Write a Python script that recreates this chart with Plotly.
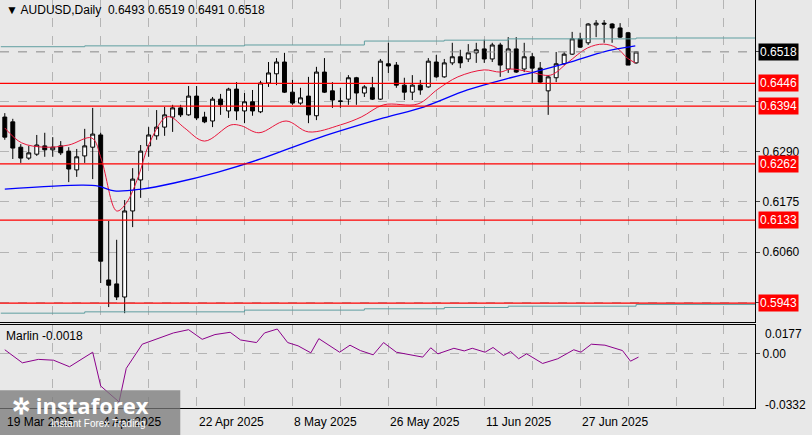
import plotly.graph_objects as go

# daily candles
opens = [0.6369, 0.6358, 0.6300, 0.6275, 0.6284, 0.6303, 0.6294, 0.6303, 0.6291, 0.6248,
         0.6280, 0.6300, 0.6328, 0.5996, 0.5987, 0.5957, 0.6154, 0.6225, 0.6303, 0.6326,
         0.6346, 0.6369, 0.6390, 0.6374, 0.6417, 0.6369, 0.6360, 0.6410, 0.6383, 0.6433,
         0.6383, 0.6404, 0.6381, 0.6447, 0.6468, 0.6495, 0.6426, 0.6401, 0.6417, 0.6372,
         0.6472, 0.6429, 0.6406, 0.6410, 0.6459, 0.6424, 0.6436, 0.6410, 0.6491, 0.6488,
         0.6442, 0.6426, 0.6442, 0.6438, 0.6495, 0.6461, 0.6493, 0.6507, 0.6502, 0.6516,
         0.6525, 0.6502, 0.6534, 0.6479, 0.6525, 0.6479, 0.6507, 0.6481, 0.6429, 0.6459,
         0.6491, 0.6513, 0.6548, 0.6539, 0.6580, 0.6584, 0.6582, 0.6573, 0.6562, 0.6493]
highs = [0.6378, 0.6365, 0.6307, 0.6303, 0.6328, 0.6333, 0.6323, 0.6314, 0.6300, 0.6296,
         0.6342, 0.6390, 0.6333, 0.6131, 0.6088, 0.6179, 0.6252, 0.6305, 0.6346, 0.6385,
         0.6392, 0.6397, 0.6397, 0.6440, 0.6440, 0.6381, 0.6415, 0.6422, 0.6436, 0.6449,
         0.6424, 0.6431, 0.6452, 0.6495, 0.6504, 0.6516, 0.6454, 0.6436, 0.6461, 0.6484,
         0.6504, 0.6449, 0.6436, 0.6465, 0.6461, 0.6442, 0.6461, 0.6502, 0.6539, 0.6495,
         0.6459, 0.6465, 0.6454, 0.6504, 0.6511, 0.6502, 0.6539, 0.6523, 0.6536, 0.6539,
         0.6546, 0.6539, 0.6539, 0.6552, 0.6552, 0.6539, 0.6516, 0.6495, 0.6465, 0.6518,
         0.6518, 0.6564, 0.6562, 0.6584, 0.6591, 0.6591, 0.6584, 0.6584, 0.6564, 0.6519]
lows = [0.6317, 0.6273, 0.6264, 0.6271, 0.6280, 0.6278, 0.6278, 0.6282, 0.6220, 0.6232,
        0.6264, 0.6227, 0.5989, 0.5934, 0.5950, 0.5920, 0.6117, 0.6184, 0.6278, 0.6317,
        0.6326, 0.6335, 0.6369, 0.6372, 0.6362, 0.6355, 0.6346, 0.6374, 0.6367, 0.6362,
        0.6355, 0.6372, 0.6378, 0.6438, 0.6442, 0.6424, 0.6397, 0.6397, 0.6355, 0.6362,
        0.6424, 0.6390, 0.6390, 0.6397, 0.6397, 0.6415, 0.6408, 0.6408, 0.6470, 0.6436,
        0.6408, 0.6408, 0.6420, 0.6436, 0.6459, 0.6459, 0.6488, 0.6481, 0.6495, 0.6493,
        0.6493, 0.6495, 0.6461, 0.6470, 0.6470, 0.6472, 0.6447, 0.6447, 0.6374, 0.6449,
        0.6488, 0.6511, 0.6527, 0.6534, 0.6552, 0.6539, 0.6539, 0.6550, 0.6488, 0.6491]
closes = [0.6323, 0.6298, 0.6275, 0.6287, 0.6305, 0.6294, 0.6300, 0.6287, 0.6250, 0.6278,
          0.6303, 0.6330, 0.6039, 0.5984, 0.5957, 0.6154, 0.6227, 0.6291, 0.6328, 0.6346,
          0.6374, 0.6390, 0.6374, 0.6417, 0.6367, 0.6358, 0.6410, 0.6397, 0.6433, 0.6383,
          0.6404, 0.6383, 0.6447, 0.6470, 0.6495, 0.6426, 0.6401, 0.6413, 0.6374, 0.6472,
          0.6426, 0.6408, 0.6405, 0.6459, 0.6424, 0.6438, 0.6410, 0.6497, 0.6486, 0.6442,
          0.6426, 0.6442, 0.6431, 0.6497, 0.6461, 0.6493, 0.6507, 0.6493, 0.6516, 0.6523,
          0.6502, 0.6534, 0.6488, 0.6525, 0.6472, 0.6507, 0.6481, 0.6449, 0.6461, 0.6491,
          0.6513, 0.6548, 0.6529, 0.6582, 0.6584, 0.6582, 0.6573, 0.6552, 0.6488, 0.6518]

# moving averages
red_x = [0, 2.1, 5, 8, 10.9, 12.1, 14, 15.2, 16.7, 18, 20, 20.8, 22.5, 25, 28.3, 29.6, 31.8,
         35.2, 38, 42, 44.6, 47.4, 51.7, 54.2, 56.7, 60, 62, 63.3, 65.8, 68.3, 70.4, 72.9,
         74.9, 76.6, 77.9, 78.9]
red_y = [0.6344, 0.6310, 0.6300, 0.6305, 0.6321, 0.6271, 0.6154, 0.6172, 0.6232, 0.6305,
         0.6367, 0.6369, 0.6344, 0.6314, 0.6351, 0.6349, 0.6333, 0.6360, 0.6335, 0.6351,
         0.6369, 0.6397, 0.6399, 0.6433, 0.6461, 0.6477, 0.6472, 0.6479, 0.6472, 0.6465,
         0.6493, 0.6527, 0.6536, 0.6527, 0.6504, 0.6493]
blue_x = [0, 9.6, 11.7, 13.7, 17.1, 21.2, 26.7, 32, 39.2, 47.4, 52.4, 57.9, 63.3, 66.2,
          70.4, 74.5, 76.6, 78.9]
blue_y = [0.6204, 0.6213, 0.6211, 0.6200, 0.6204, 0.6218, 0.6243, 0.6273, 0.6321, 0.6367,
          0.6392, 0.6431, 0.6459, 0.6472, 0.6493, 0.6516, 0.6525, 0.6532]

# channel lines
chan_x = [-0.5, 10, 30, 45, 55, 63, 79, 94]
chan_top = [0.6530, 0.6532, 0.6534, 0.6543, 0.6545, 0.6548, 0.6550, 0.6557]
chan_bot = [0.5920, 0.5923, 0.5927, 0.5930, 0.5933, 0.5936, 0.5940, 0.5945]

levels = [0.6446, 0.6394, 0.6262, 0.6133, 0.5943]
grid_prices = [0.6520, 0.6405, 0.6290, 0.6175, 0.6060, 0.5945]

# Marlin oscillator
osc_x = [0, 2.2, 4.2, 6.1, 8.1, 11.0, 12.0, 14.3, 15.2, 17.2, 21.1, 23.0, 24.7, 26.3, 28.2,
         29.5, 31.5, 32.5, 34.1, 35.4, 36.7, 38.3, 39.3, 41.9, 43.2, 44.5, 46.1, 47.4, 49.0,
         51.0, 52.3, 53.3, 54.2, 56.2, 57.5, 58.5, 60.1, 61.1, 62.4, 63.3, 64.3, 65.3, 67.3,
         69.2, 71.2, 72.1, 73.4, 75.1, 77.3, 78.3, 79.3]
osc_y = [0.0025, -0.0055, -0.0034, -0.0039, -0.0079, 0.0010, -0.0197, -0.0295, -0.0089,
         0.0059, 0.0128, 0.0148, 0.0089, 0.0118, 0.0132, 0.0085, 0.0069, 0.0128, 0.0152,
         0.0069, 0.0049, 0.0006, 0.0093, 0.0010, 0.0053, 0.0020, -0.0006, 0.0069, 0.0010,
         -0.0010, -0.0020, 0.0037, 0.0, 0.0034, 0.0018, 0.0034, 0.0010, 0.0039, -0.0010,
         0.0014, -0.0030, 0.0, -0.0059, -0.0030, 0.0025, 0.0010, 0.0059, 0.0053, 0.0020,
         -0.0045, -0.0020]

date_idx = [0, 12, 24, 36, 48, 60, 72]
date_text = ["19 Mar 2025", "4 Apr 2025", "22 Apr 2025", "8 May 2025", "26 May 2025",
             "11 Jun 2025", "27 Jun 2025"]

BG = "#e8e8e8"
FONT = "Liberation Sans"

fig = go.Figure()
fig.add_trace(go.Scatter(x=chan_x, y=chan_top, mode="lines", line=dict(color="#5f9ea0", width=1),
                         line_shape="hv", hoverinfo="skip"))
fig.add_trace(go.Scatter(x=chan_x, y=chan_bot, mode="lines", line=dict(color="#5f9ea0", width=1),
                         line_shape="hv", hoverinfo="skip"))
for lv in levels:
    fig.add_hline(y=lv, line=dict(color="#ff0000", width=1.2), xref="x", yref="y")
fig.add_hline(y=closes[-1], line=dict(color="#a0a0a0", width=1, dash="dash"), yref="y")
fig.add_trace(go.Scatter(x=red_x, y=red_y, mode="lines", line=dict(color="#e8163c", width=1),
                         line_shape="spline"))
fig.add_trace(go.Scatter(x=blue_x, y=blue_y, mode="lines", line=dict(color="#0000ff", width=1.3),
                         line_shape="spline"))
fig.add_trace(go.Candlestick(
    x=list(range(len(opens))), open=opens, high=highs, low=lows, close=closes,
    increasing=dict(line=dict(color="black", width=1), fillcolor="white"),
    decreasing=dict(line=dict(color="black", width=1), fillcolor="black"),
    whiskerwidth=0))
fig.add_trace(go.Scatter(x=osc_x, y=osc_y, mode="lines", line=dict(color="#8b008b", width=1),
                         xaxis="x2", yaxis="y2"))

xr = [-0.6, 93.9]
grid = dict(showgrid=True, gridcolor="#b4b4b4", griddash="dash", gridwidth=1)
fig.update_layout(
    width=812, height=435, margin=dict(l=0, r=0, t=0, b=0, autoexpand=False),
    paper_bgcolor=BG, plot_bgcolor=BG, showlegend=False,
    font=dict(family=FONT, size=12, color="black"),
    xaxis=dict(domain=[0, 0.93], range=xr, tickvals=list(range(6, 94, 6)), showticklabels=False,
               rangeslider=dict(visible=False), zeroline=False, showline=True, mirror=True,
               linecolor="black", automargin=False, **grid),
    yaxis=dict(domain=[0.26, 1], range=[0.5900, 0.6637], side="right", tickvals=grid_prices,
               ticktext=["", "", "0.6290", "0.6175", "0.6060", ""], zeroline=False,
               showline=True, mirror=True, linecolor="black", ticks="outside", ticklen=4,
               automargin=False, **grid),
    xaxis2=dict(domain=[0, 0.93], range=xr, anchor="y2", tickvals=list(range(6, 94, 6)),
                showticklabels=False, zeroline=False, showline=True, mirror=True,
                linecolor="black", automargin=False, **grid),
    yaxis2=dict(domain=[0.062, 0.253], range=[-0.0332, 0.0177], side="right", anchor="x2",
                tickvals=[0.0], ticktext=["0.00"], zeroline=False, showline=True, mirror=True,
                linecolor="black", ticks="outside", ticklen=4, automargin=False, **grid),
)

ann = []
ann.append(dict(xref="paper", yref="paper", x=0.005, y=0.997, xanchor="left", yanchor="top",
                text="▼ AUDUSD,Daily  0.6493 0.6519 0.6491 0.6518", showarrow=False))
ann.append(dict(xref="paper", yref="paper", x=0.005, y=0.248, xanchor="left", yanchor="top",
                text="Marlin -0.0018", showarrow=False))
ann.append(dict(xref="paper", yref="y", x=0.934, y=closes[-1], xanchor="left", text="0.6518",
                showarrow=False, bgcolor="black", font=dict(color="white"), borderpad=1))
for lv in levels:
    ann.append(dict(xref="paper", yref="y", x=0.934, y=lv, xanchor="left", text=f"{lv:.4f}",
                    showarrow=False, bgcolor="#ff0000", font=dict(color="white"),
                    borderpad=1))
ann.append(dict(xref="paper", yref="paper", x=0.94, y=0.232, xanchor="left", yanchor="middle",
                text="0.0177", showarrow=False))
ann.append(dict(xref="paper", yref="paper", x=0.94, y=0.069, xanchor="left", yanchor="middle",
                text="-0.0332", showarrow=False))
for i, t in zip(date_idx, date_text):
    ann.append(dict(xref="x2", yref="paper", x=i, y=0.05, xanchor="left", yanchor="top",
                    text=t, showarrow=False))
ann.append(dict(xref="paper", yref="paper", x=0.012, y=0.07, xanchor="left", yanchor="middle",
                text="<b>✲ instaforex</b>", showarrow=False,
                font=dict(size=22, color="white", family="Open Sans")))
ann.append(dict(xref="paper", yref="paper", x=0.06, y=0.01, xanchor="left", yanchor="bottom",
                text="Instant Forex Trading", showarrow=False,
                font=dict(size=10, color="white")))
fig.update_layout(annotations=ann)
fig.add_shape(type="rect", xref="paper", yref="paper", x0=0, x1=0.222, y0=0, y1=0.103,
              fillcolor="rgba(120,120,120,0.75)", line_width=0, layer="above")
fig.write_html("out.html", config={"displayModeBar": False},
               post_script="document.body.style.margin='0';")
